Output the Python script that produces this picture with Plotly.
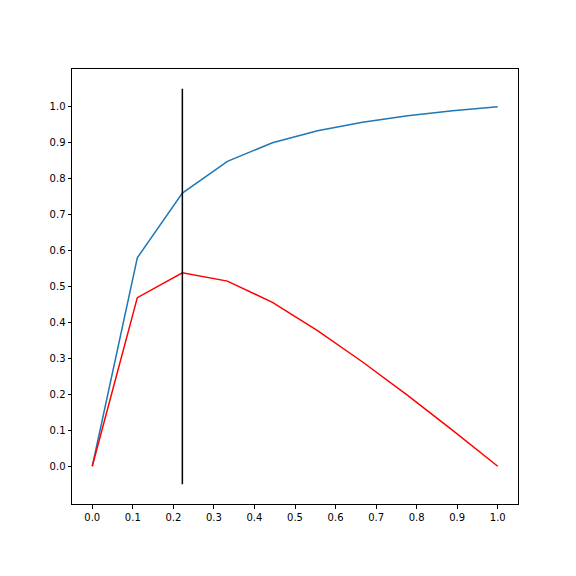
import plotly.graph_objects as go

# fraction of sample, cumulative gain and lift-minus-baseline
frac = [0.0, 0.1111, 0.2222, 0.3333, 0.4444, 0.5556, 0.6667, 0.7778, 0.8889, 1.0]
gain = [0.0, 0.58, 0.76, 0.848, 0.90, 0.933, 0.957, 0.975, 0.989, 1.0]
diff = [0.0, 0.469, 0.538, 0.515, 0.456, 0.377, 0.290, 0.197, 0.100, 0.0]

cut_x = [0.2222, 0.2222]
cut_y = [-0.05, 1.05]

ticks = [round(i * 0.1, 1) for i in range(11)]

fig = go.Figure()
fig.add_trace(go.Scatter(x=frac, y=gain, mode="lines",
                         line=dict(color="#1f77b4", width=1.5)))
fig.add_trace(go.Scatter(x=frac, y=diff, mode="lines",
                         line=dict(color="red", width=1.5)))
fig.add_trace(go.Scatter(x=cut_x, y=cut_y, mode="lines",
                         line=dict(color="black", width=1.5)))

axis_style = dict(
    showgrid=False, zeroline=False,
    showline=True, mirror=True, linecolor="black", linewidth=1,
    ticks="outside", ticklen=3.5, tickwidth=1, tickcolor="black",
    tickfont=dict(family="DejaVu Sans", size=10, color="black"),
)

# page body adds an 8px offset, so margins are shifted to compensate
fig.update_layout(
    width=576, height=576,
    margin=dict(l=64, r=66, t=61, b=80),
    plot_bgcolor="white", paper_bgcolor="white",
    showlegend=False,
)
fig.update_xaxes(range=[-0.05, 1.05], tickvals=ticks,
                 ticktext=[f"{t:.1f}" for t in ticks], **axis_style)
fig.update_yaxes(range=[-0.105, 1.105], tickvals=ticks,
                 ticktext=[f"{t:.1f}" for t in ticks], **axis_style)

fig.write_html("out.html")
